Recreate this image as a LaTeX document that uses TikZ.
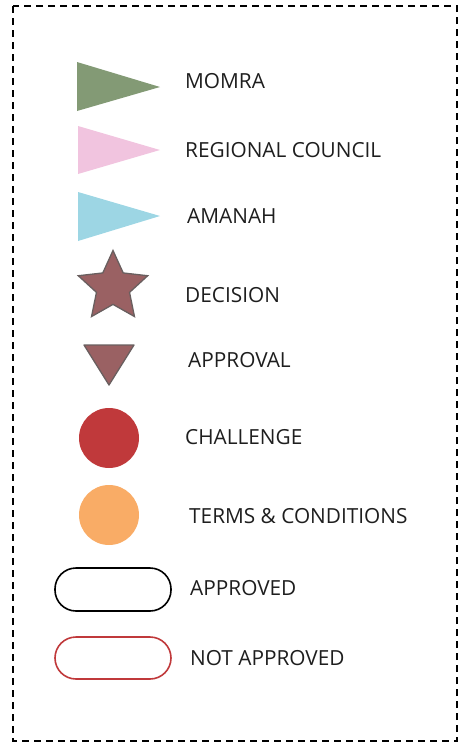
\documentclass[tikz,border=0pt]{standalone}
\usepackage{fontspec}
\setmainfont{Open Sans}
\usetikzlibrary{shapes.geometric}
\definecolor{momra}{RGB}{131,154,117}
\definecolor{council}{RGB}{241,196,223}
\definecolor{amanah}{RGB}{157,214,228}
\definecolor{decis}{RGB}{154,97,99}
\definecolor{decisline}{RGB}{105,95,95}
\definecolor{chal}{RGB}{192,57,59}
\definecolor{terms}{RGB}{249,172,102}
\definecolor{txt}{RGB}{30,30,30}
\tikzset{
  lbl/.style={anchor=base west, inner sep=0pt, font=\fontsize{20.8}{24}\selectfont, text=txt},
  pill/.style={rounded corners=21pt, line width=1.6pt, fill=white},
}
\begin{document}
\begin{tikzpicture}[x=1pt,y=-1pt]
\useasboundingbox (0,0) rectangle (461,742);
\draw[dash pattern=on 7pt off 5pt, line width=1.5pt] (13,6) rectangle (457,741);
% flags
\fill[momra] (77,62) -- (160,87) -- (77,111) -- cycle;
\fill[council] (78,126) -- (160,150) -- (78,174) -- cycle;
\fill[amanah] (78,192) -- (160,216) -- (78,241) -- cycle;
% decision star
\node[star, star points=5, star point ratio=2.1, minimum size=73pt, inner sep=0pt,
      fill=decis, draw=decisline, line width=1.3pt] (dec) at (113,287) {};
% approval
\draw[fill=decis, draw=decisline, line width=1.3pt, line join=round] (84,345) -- (134,345) -- (109,385) -- cycle;
% circles
\fill[chal] (109,438) circle (30);
\fill[terms] (109,515) circle (30);
% pills
\draw[pill, draw=black] (55,568) rectangle (171,611);
\draw[pill, draw=chal] (55,637) rectangle (171,679);
% labels
\node[lbl] (l1) at (185,88) {MOMRA};
\node[lbl] (l2) at (185,157) {REGIONAL COUNCIL};
\node[lbl] (l3) at (187,223) {AMANAH};
\node[lbl] (l4) at (185,302) {DECISION};
\node[lbl] (l5) at (188,367) {APPROVAL};
\node[lbl] (l6) at (185,444) {CHALLENGE};
\node[lbl] (l7) at (189,523) {TERMS \& CONDITIONS};
\node[lbl] (l8) at (190,595) {APPROVED};
\node[lbl] (l9) at (190,665) {NOT APPROVED};
\end{tikzpicture}
\end{document}
